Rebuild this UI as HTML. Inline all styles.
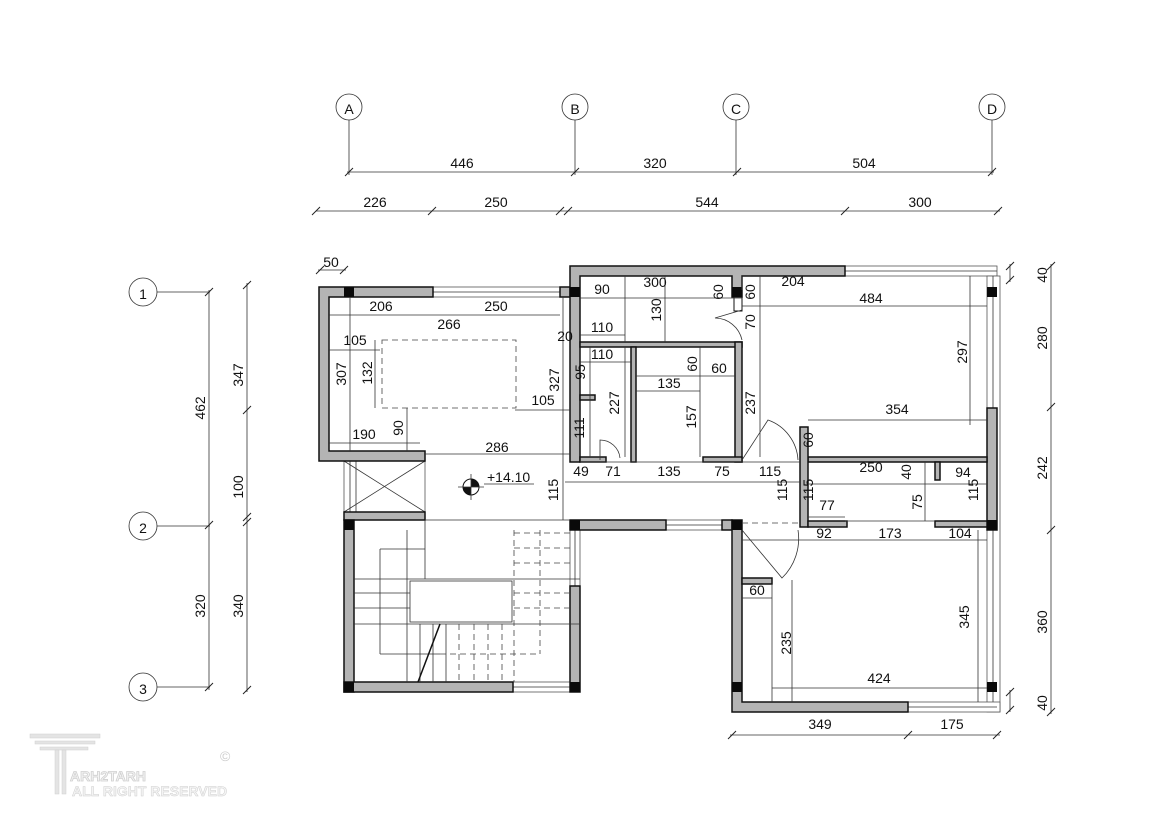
<!DOCTYPE html>
<html><head><meta charset="utf-8"><style>
html,body{margin:0;padding:0;background:#fff}
svg{display:block}
text{font-family:"Liberation Sans",Arial,sans-serif;font-size:14px;fill:#111}
.w{fill:#b4b4b4;stroke:#111;stroke-width:1.5}
.c{fill:#0a0a0a}
.l{stroke:#333;stroke-width:0.8;fill:none}
.d{stroke:#444;stroke-width:0.8;fill:none;stroke-dasharray:6 4}
.win{stroke:#555;stroke-width:0.8;fill:#fff}
</style></head><body>
<svg width="1169" height="827" viewBox="0 0 1169 827" xmlns="http://www.w3.org/2000/svg">
<defs>
<g id="t"><line x1="-4" y1="4" x2="4" y2="-4" stroke="#222" stroke-width="1"/></g>
</defs>

<g class="l">
<circle cx="349" cy="107" r="13" fill="#fff"/><circle cx="575" cy="107" r="13" fill="#fff"/>
<circle cx="736" cy="107" r="13" fill="#fff"/><circle cx="992" cy="107" r="13" fill="#fff"/>
<line x1="349" y1="120" x2="349" y2="175"/><line x1="575" y1="120" x2="575" y2="175"/>
<line x1="736" y1="120" x2="736" y2="175"/><line x1="992" y1="120" x2="992" y2="175"/>
<line x1="347" y1="172" x2="994" y2="172"/>
<line x1="316" y1="211" x2="1000" y2="211"/>
<circle cx="143" cy="292" r="14" fill="#fff"/><circle cx="143" cy="526" r="14" fill="#fff"/><circle cx="143" cy="687" r="14" fill="#fff"/>
<line x1="157" y1="292" x2="210" y2="292"/><line x1="157" y1="526" x2="210" y2="526"/><line x1="157" y1="687" x2="210" y2="687"/>
<line x1="209" y1="290" x2="209" y2="690"/>
<line x1="247" y1="283" x2="247" y2="692"/>
<line x1="1051" y1="264" x2="1051" y2="714"/>
<line x1="1010" y1="264" x2="1010" y2="282"/><line x1="1010" y1="690" x2="1010" y2="712"/>
<line x1="730" y1="735" x2="1000" y2="735"/>
<line x1="318" y1="270" x2="346" y2="270"/>
</g>
<text x="349" y="114" text-anchor="middle" font-size="18">A</text>
<text x="575" y="114" text-anchor="middle" font-size="18">B</text>
<text x="736" y="114" text-anchor="middle" font-size="18">C</text>
<text x="992" y="114" text-anchor="middle" font-size="18">D</text>
<text x="143" y="299" text-anchor="middle" font-size="19">1</text>
<text x="143" y="533" text-anchor="middle" font-size="19">2</text>
<text x="143" y="694" text-anchor="middle" font-size="19">3</text>
<g>
<use href="#t" x="349" y="172"/><use href="#t" x="575" y="172"/><use href="#t" x="737" y="172"/><use href="#t" x="992" y="172"/>
<use href="#t" x="316" y="211"/><use href="#t" x="432" y="211"/><use href="#t" x="560" y="211"/><use href="#t" x="568" y="211"/><use href="#t" x="845" y="211"/><use href="#t" x="998" y="211"/>
<use href="#t" x="209" y="292"/><use href="#t" x="209" y="525"/><use href="#t" x="209" y="687"/>
<use href="#t" x="247" y="285"/><use href="#t" x="247" y="410"/><use href="#t" x="247" y="517"/><use href="#t" x="247" y="522"/><use href="#t" x="247" y="690"/>
<use href="#t" x="1051" y="266"/><use href="#t" x="1051" y="407"/><use href="#t" x="1051" y="530"/><use href="#t" x="1051" y="712"/>
<use href="#t" x="1010" y="266"/><use href="#t" x="1010" y="280"/><use href="#t" x="1010" y="692"/><use href="#t" x="1010" y="710"/>
<use href="#t" x="732" y="735"/><use href="#t" x="908" y="735"/><use href="#t" x="997" y="735"/>
<use href="#t" x="320" y="270"/><use href="#t" x="344" y="270"/>
</g>
<text x="462" y="168" text-anchor="middle">446</text>
<text x="655" y="168" text-anchor="middle">320</text>
<text x="864" y="168" text-anchor="middle">504</text>
<text x="375" y="207" text-anchor="middle">226</text>
<text x="496" y="207" text-anchor="middle">250</text>
<text x="707" y="207" text-anchor="middle">544</text>
<text x="920" y="207" text-anchor="middle">300</text>
<g>
<text transform="translate(205,408) rotate(-90)" text-anchor="middle">462</text>
<text transform="translate(205,606) rotate(-90)" text-anchor="middle">320</text>
<text transform="translate(243,375) rotate(-90)" text-anchor="middle">347</text>
<text transform="translate(243,487) rotate(-90)" text-anchor="middle">100</text>
<text transform="translate(243,606) rotate(-90)" text-anchor="middle">340</text>
<text transform="translate(1047,275) rotate(-90)" text-anchor="middle">40</text>
<text transform="translate(1047,338) rotate(-90)" text-anchor="middle">280</text>
<text transform="translate(1047,468) rotate(-90)" text-anchor="middle">242</text>
<text transform="translate(1047,622) rotate(-90)" text-anchor="middle">360</text>
<text transform="translate(1047,703) rotate(-90)" text-anchor="middle">40</text>
</g>
<text x="820" y="729" text-anchor="middle">349</text>
<text x="952" y="729" text-anchor="middle">175</text>
<text x="331" y="267" text-anchor="middle">50</text>

<rect class="win" x="433" y="287" width="127" height="10"/><line class="l" x1="433" y1="292" x2="560" y2="292"/>
<rect class="win" x="845" y="266" width="152" height="10"/><line class="l" x1="845" y1="271" x2="997" y2="271"/>
<rect class="win" x="987" y="276" width="13" height="436"/><line class="l" x1="993" y1="276" x2="993" y2="712"/>
<rect class="win" x="908" y="702" width="92" height="10"/><line class="l" x1="908" y1="707" x2="997" y2="707"/>
<rect class="win" x="666" y="520" width="56" height="10"/><line class="l" x1="666" y1="525" x2="722" y2="525"/>
<rect class="win" x="570" y="530" width="10" height="56"/><line class="l" x1="575" y1="530" x2="575" y2="586"/>
<rect class="win" x="513" y="682" width="57" height="10"/><line class="l" x1="513" y1="687" x2="570" y2="687"/>
<rect class="win" x="344" y="461" width="81" height="51"/>
<line class="l" x1="344" y1="461" x2="425" y2="512"/><line class="l" x1="425" y1="461" x2="344" y2="512"/>
<line class="l" x1="350" y1="461" x2="350" y2="512"/><line class="l" x1="356" y1="461" x2="356" y2="512"/>

<path class="w" d="M319,287 H433 V297 H329 V451 H425 V461 H319 Z"/>
<rect class="w" x="560" y="287" width="10" height="10"/>
<path class="w" d="M570,266 H845 V276 H742 V297 H732 V276 H580 V462 H570 Z"/>
<rect class="w" x="580" y="342" width="162" height="5"/>
<rect class="w" x="735" y="342" width="7" height="120"/>
<rect class="w" x="631" y="347" width="5" height="115"/>
<rect class="w" x="580" y="457" width="26" height="5"/>
<rect class="w" x="703" y="457" width="39" height="5"/>
<rect class="w" x="580" y="395" width="15" height="5"/>
<rect x="734" y="297" width="8" height="14" fill="#fff" stroke="#111"/>
<rect class="w" x="987" y="408" width="10" height="122"/>
<rect class="w" x="808" y="457" width="179" height="5"/>
<rect class="w" x="800" y="427" width="8" height="100"/>
<rect class="w" x="935" y="462" width="5" height="18"/>
<rect class="w" x="808" y="521" width="39" height="6"/>
<rect class="w" x="935" y="521" width="52" height="6"/>
<rect class="w" x="570" y="520" width="96" height="10"/>
<rect class="w" x="722" y="520" width="10" height="10"/>
<path class="w" d="M732,520 H742 V702 H908 V712 H732 Z"/>
<rect class="w" x="742" y="578" width="30" height="6"/>
<rect class="w" x="344" y="512" width="81" height="8"/>
<rect class="w" x="344" y="520" width="10" height="172"/>
<rect class="w" x="344" y="682" width="169" height="10"/>
<rect class="w" x="570" y="586" width="10" height="106"/>
<g class="c">
<rect x="344" y="287" width="10" height="10"/><rect x="570" y="287" width="10" height="10"/>
<rect x="732" y="287" width="10" height="10"/><rect x="987" y="287" width="10" height="10"/>
<rect x="344" y="520" width="10" height="10"/><rect x="570" y="520" width="10" height="10"/>
<rect x="732" y="520" width="10" height="10"/><rect x="987" y="520" width="10" height="10"/>
<rect x="344" y="682" width="10" height="10"/><rect x="570" y="682" width="10" height="10"/>
<rect x="732" y="682" width="10" height="10"/><rect x="987" y="682" width="10" height="10"/>
</g>

<g class="l">
<line x1="329" y1="315" x2="560" y2="315"/>
<line x1="329" y1="350" x2="380" y2="350"/>
<line x1="329" y1="443" x2="420" y2="443"/>
<line x1="350" y1="297" x2="350" y2="451"/>
<line x1="375" y1="340" x2="375" y2="408"/>
<line x1="407" y1="408" x2="407" y2="451"/>
<line x1="515" y1="410" x2="570" y2="410"/>
<line x1="425" y1="454" x2="570" y2="454"/>
<line x1="563" y1="297" x2="563" y2="462"/>
<line x1="563" y1="462" x2="563" y2="520"/>
<line x1="565" y1="482" x2="800" y2="482"/>
<line x1="580" y1="298" x2="742" y2="298"/>
<line x1="580" y1="335" x2="625" y2="335"/>
<line x1="580" y1="362" x2="631" y2="362"/>
<line x1="636" y1="376" x2="735" y2="376"/>
<line x1="636" y1="391" x2="700" y2="391"/>
<line x1="700" y1="347" x2="700" y2="457"/>
<line x1="625" y1="276" x2="625" y2="342"/>
<line x1="665" y1="276" x2="665" y2="342"/>
<line x1="625" y1="347" x2="625" y2="457"/>
<line x1="590" y1="347" x2="590" y2="457"/>
<line x1="742" y1="306" x2="987" y2="306"/>
<line x1="742" y1="276" x2="742" y2="290"/>
<line x1="760" y1="276" x2="760" y2="457"/>
<line x1="970" y1="276" x2="970" y2="425"/>
<line x1="808" y1="420" x2="987" y2="420"/>
<line x1="808" y1="484" x2="987" y2="484"/>
<line x1="925" y1="462" x2="925" y2="521"/>
<line x1="808" y1="517" x2="845" y2="517"/>
<line x1="742" y1="540" x2="987" y2="540"/>
<line x1="978" y1="530" x2="978" y2="702"/>
<line x1="792" y1="580" x2="792" y2="702"/>
<line x1="742" y1="598" x2="772" y2="598"/>
<line x1="772" y1="584" x2="772" y2="702"/>
<line x1="772" y1="688" x2="987" y2="688"/>
<line x1="845" y1="521" x2="935" y2="521"/>
<line x1="580" y1="462" x2="800" y2="462"/>
<line x1="425" y1="520" x2="570" y2="520"/>
</g>
<rect class="d" x="382" y="340" width="134" height="68"/>
<line class="d" x1="742" y1="523" x2="800" y2="523"/>
<g class="l">
<path d="M742,310 L715,318 A28,28 0 0 1 742,340"/>
<path d="M600,460 V440 A20,20 0 0 1 620,458"/>
<path d="M742,460 L768,420 A45,45 0 0 1 798,460"/>
<path d="M742,530 L782,578 A55,55 0 0 0 798,530"/>
</g>
<g class="l">
<rect x="410" y="581" width="102" height="41"/>
<line x1="354" y1="579" x2="580" y2="579"/><line x1="354" y1="593" x2="410" y2="593"/>
<line x1="354" y1="608" x2="410" y2="608"/><line x1="354" y1="624" x2="580" y2="624"/>
<line x1="380" y1="549" x2="425" y2="549"/><line x1="380" y1="549" x2="380" y2="654"/>
<line x1="380" y1="654" x2="440" y2="654"/>
<line x1="425" y1="520" x2="425" y2="579"/>
<line x1="407" y1="530" x2="407" y2="682"/>
<line x1="420" y1="624" x2="420" y2="682"/><line x1="433" y1="624" x2="433" y2="682"/>
<line x1="446" y1="624" x2="446" y2="682"/>
</g>
<g class="d">
<line x1="514" y1="530" x2="514" y2="682"/><line x1="540" y1="530" x2="540" y2="654"/>
<line x1="459" y1="624" x2="459" y2="682"/><line x1="474" y1="624" x2="474" y2="682"/><line x1="488" y1="624" x2="488" y2="682"/><line x1="502" y1="624" x2="502" y2="682"/>
<line x1="514" y1="533" x2="570" y2="533"/><line x1="514" y1="548" x2="570" y2="548"/><line x1="514" y1="563" x2="570" y2="563"/>
<line x1="514" y1="593" x2="570" y2="593"/><line x1="514" y1="608" x2="570" y2="608"/>
<line x1="440" y1="654" x2="540" y2="654"/>
</g>
<line x1="440" y1="624" x2="418" y2="682" stroke="#111" stroke-width="1.5"/>

<circle cx="471" cy="487" r="8" fill="#fff" stroke="#111"/>
<path d="M471,479 A8,8 0 0 1 479,487 H471 Z M471,495 A8,8 0 0 1 463,487 H471 Z" fill="#111"/>
<line class="l" x1="458" y1="487" x2="484" y2="487"/><line class="l" x1="471" y1="474" x2="471" y2="500"/>
<line class="l" x1="484" y1="484" x2="534" y2="484"/>
<text x="487" y="482" font-size="15">+14.10</text>

<g text-anchor="middle">
<text x="381" y="311">206</text><text x="496" y="311">250</text><text x="449" y="329">266</text>
<text x="355" y="345">105</text><text x="543" y="405">105</text><text x="364" y="439">190</text>
<text x="497" y="452">286</text>
<text x="581" y="476">49</text><text x="613" y="476">71</text><text x="669" y="476">135</text><text x="722" y="476">75</text><text x="770" y="476">115</text>
<text x="602" y="294">90</text><text x="655" y="287">300</text><text x="793" y="286">204</text><text x="871" y="303">484</text>
<text x="565" y="341">20</text><text x="602" y="332">110</text><text x="602" y="359">110</text>
<text x="719" y="373">60</text><text x="669" y="388">135</text><text x="897" y="414">354</text>
<text x="871" y="472">250</text><text x="963" y="477">94</text><text x="827" y="510">77</text>
<text x="824" y="538">92</text><text x="890" y="538">173</text><text x="960" y="538">104</text>
<text x="757" y="595">60</text><text x="879" y="683">424</text>
<text transform="translate(346,374) rotate(-90)">307</text>
<text transform="translate(372,373) rotate(-90)">132</text>
<text transform="translate(559,380) rotate(-90)">327</text>
<text transform="translate(403,428) rotate(-90)">90</text>
<text transform="translate(558,490) rotate(-90)">115</text>
<text transform="translate(661,310) rotate(-90)">130</text>
<text transform="translate(723,292) rotate(-90)">60</text>
<text transform="translate(755,292) rotate(-90)">60</text>
<text transform="translate(585,372) rotate(-90)">95</text>
<text transform="translate(584,428) rotate(-90)">111</text>
<text transform="translate(619,403) rotate(-90)">227</text>
<text transform="translate(697,364) rotate(-90)">60</text>
<text transform="translate(696,417) rotate(-90)">157</text>
<text transform="translate(755,403) rotate(-90)">237</text>
<text transform="translate(755,322) rotate(-90)">70</text>
<text transform="translate(967,352) rotate(-90)">297</text>
<text transform="translate(813,440) rotate(-90)">60</text>
<text transform="translate(911,472) rotate(-90)">40</text>
<text transform="translate(787,490) rotate(-90)">115</text>
<text transform="translate(813,490) rotate(-90)">115</text>
<text transform="translate(978,490) rotate(-90)">115</text>
<text transform="translate(922,502) rotate(-90)">75</text>
<text transform="translate(791,643) rotate(-90)">235</text>
<text transform="translate(969,617) rotate(-90)">345</text>
</g>

<g fill="#e4e4e4" stroke="#d0d0d0" stroke-width="0.5">
<rect x="30" y="734" width="70" height="4"/><rect x="35" y="741" width="60" height="3"/><rect x="40" y="747" width="48" height="3"/>
<rect x="55" y="750" width="4" height="44"/><rect x="62" y="750" width="4" height="44"/>
</g>
<text x="70" y="781" font-size="22" font-weight="bold" stroke="#d0d0d0" stroke-width="0.8" style="fill:#f4f4f4">ARH2TARH</text>
<text x="72" y="796" font-size="11" font-weight="bold" stroke="#d0d0d0" stroke-width="0.5" style="fill:#f4f4f4">ALL RIGHT RESERVED</text>
<text x="220" y="761" font-size="10" style="fill:#ccc">©</text>
</svg>
</body></html>
